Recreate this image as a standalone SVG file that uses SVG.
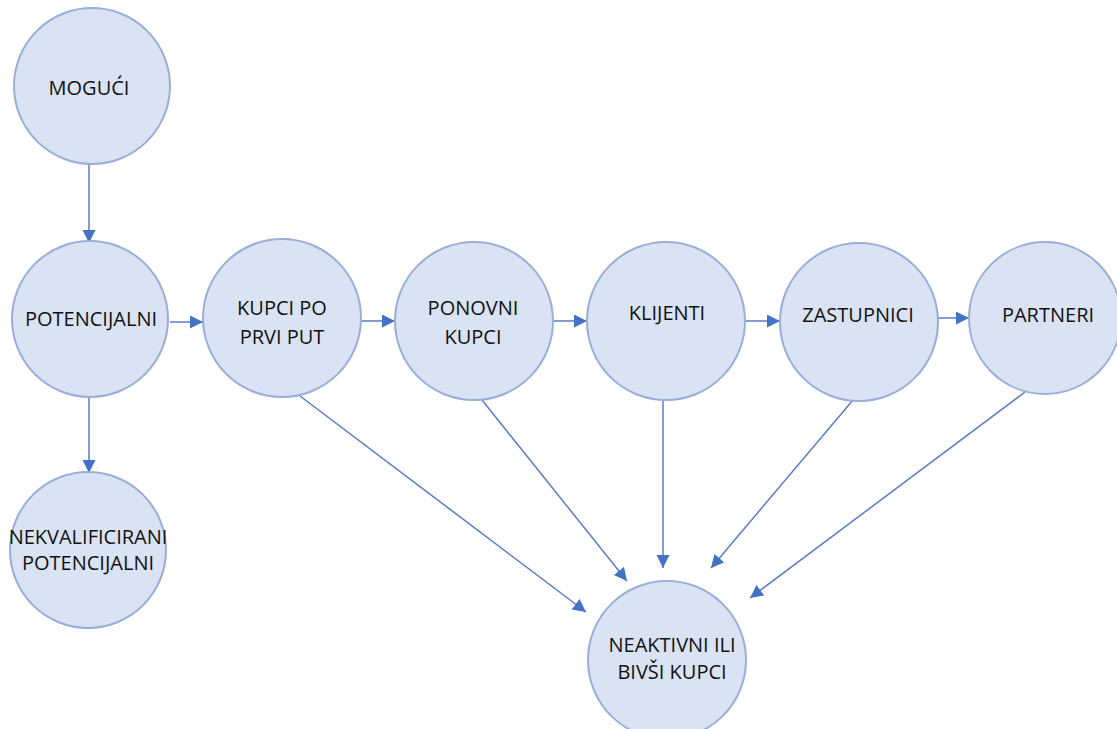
<svg xmlns="http://www.w3.org/2000/svg" width="1117" height="729" viewBox="0 0 1117 729">
<style>
.node circle{fill:#DAE3F3;stroke:#99AED8;stroke-width:2}
.node text{font-family:"Open Sans","Liberation Sans",sans-serif;font-size:20px;fill:#111;text-anchor:middle}
.edges line{stroke:#5A7BC4;stroke-width:1.5;fill:none;marker-end:url(#arr)}
</style>
<defs>
<marker id="arr" markerUnits="userSpaceOnUse" markerWidth="14" markerHeight="14" refX="13" refY="6.5" orient="auto">
<path d="M0,0 L13,6.5 L0,13 z" fill="#4472C4"/>
</marker>
</defs>
<rect width="1117" height="729" fill="#ffffff"/>
<g class="edges">
<line x1="89" y1="163" x2="89" y2="243"/>
<line x1="89" y1="397" x2="89" y2="473"/>
<line x1="170" y1="322" x2="203" y2="322"/>
<line x1="362" y1="321" x2="395" y2="321"/>
<line x1="554" y1="321" x2="587" y2="321"/>
<line x1="746" y1="321" x2="780" y2="321"/>
<line x1="938" y1="318" x2="969" y2="318"/>
<line x1="300" y1="396" x2="586" y2="612"/>
<line x1="482" y1="400" x2="627" y2="581"/>
<line x1="663" y1="399" x2="663" y2="568"/>
<line x1="853" y1="400" x2="711" y2="568"/>
<line x1="1025" y1="392" x2="750" y2="598"/>
</g>
<g id="mogući" class="node"><circle cx="92" cy="86" r="78"/><text x="89" y="95">MOGUĆI</text></g>
<g id="potencijalni" class="node"><circle cx="90" cy="319" r="78"/><text x="91" y="326">POTENCIJALNI</text></g>
<g id="nekvalificirani" class="node"><circle cx="88" cy="550" r="78"/><text x="88" y="544">NEKVALIFICIRANI</text><text x="88" y="570">POTENCIJALNI</text></g>
<g id="kupci-po-prvi-put" class="node"><circle cx="282" cy="318" r="79"/><text x="282" y="315">KUPCI PO</text><text x="282" y="344">PRVI PUT</text></g>
<g id="ponovni-kupci" class="node"><circle cx="474" cy="321" r="79"/><text x="473" y="315">PONOVNI</text><text x="473" y="344">KUPCI</text></g>
<g id="klijenti" class="node"><circle cx="666" cy="321" r="79"/><text x="667" y="320">KLIJENTI</text></g>
<g id="zastupnici" class="node"><circle cx="859" cy="322" r="79"/><text x="858" y="322">ZASTUPNICI</text></g>
<g id="partneri" class="node"><circle cx="1045" cy="318" r="76"/><text x="1048" y="322">PARTNERI</text></g>
<g id="neaktivni" class="node"><circle cx="667" cy="660" r="79"/><text x="672" y="652">NEAKTIVNI ILI</text><text x="672" y="679">BIVŠI KUPCI</text></g>
</svg>
